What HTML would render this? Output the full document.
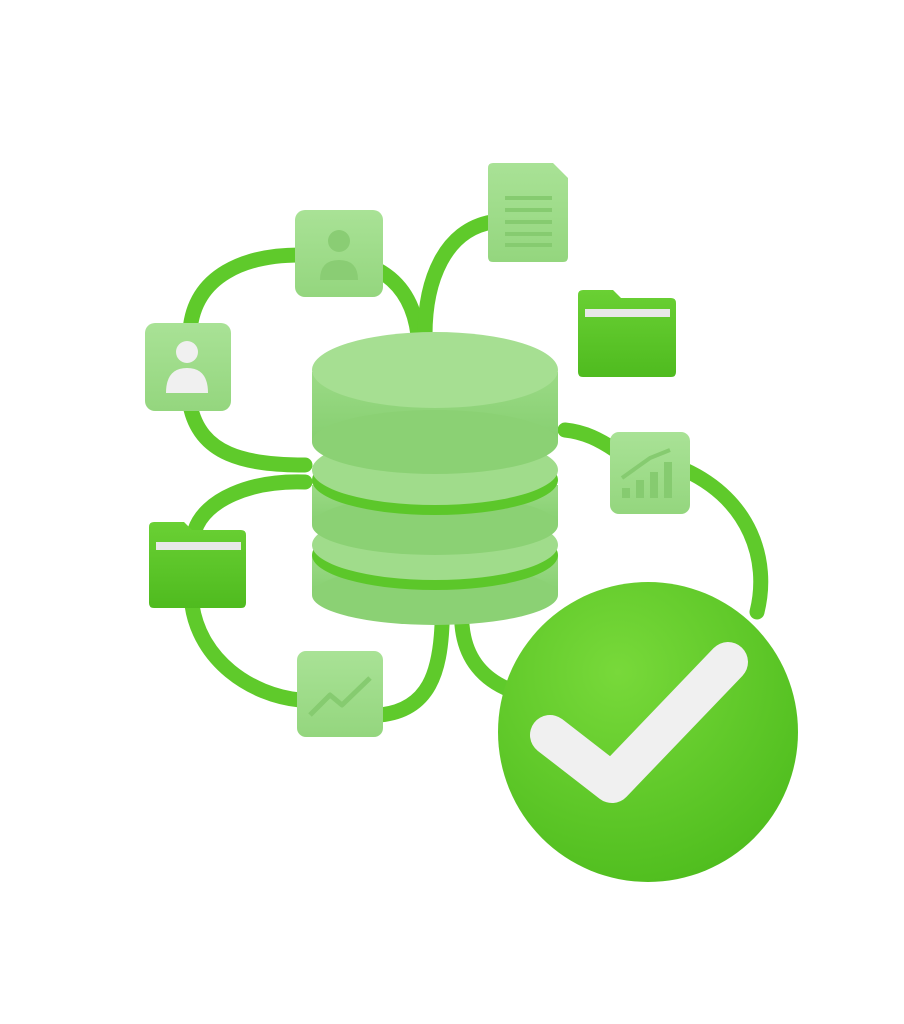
<!DOCTYPE html>
<html><head><meta charset="utf-8"><style>
html,body{margin:0;padding:0;background:#fff;}
svg{display:block;}
</style></head><body>
<svg width="904" height="1024" viewBox="0 0 904 1024" xmlns="http://www.w3.org/2000/svg">
<defs>
<linearGradient id="card" x1="0" y1="0" x2="0" y2="1"><stop offset="0" stop-color="#a9e296"/><stop offset="1" stop-color="#94d67e"/></linearGradient>
<linearGradient id="fold" x1="0" y1="0" x2="0" y2="1"><stop offset="0" stop-color="#6ad034"/><stop offset="1" stop-color="#4fbb1f"/></linearGradient>
<radialGradient id="chk" cx="0.4" cy="0.3" r="0.8"><stop offset="0" stop-color="#78d93a"/><stop offset="1" stop-color="#4cbb1c"/></radialGradient>
<linearGradient id="side" x1="0" y1="0" x2="0" y2="1"><stop offset="0" stop-color="#9bda86"/><stop offset="1" stop-color="#86cf70"/></linearGradient>
</defs>
<g fill="none" stroke="#5fca2b" stroke-width="15" stroke-linecap="round">
<path d="M190,330 C195,275 245,255 300,255"/>
<path d="M378,270 C405,285 415,310 418,335"/>
<path d="M492,222 C445,230 425,280 425,335"/>
<path d="M190,405 C200,455 245,465 305,465"/>
<path d="M305,482 C250,480 205,500 195,530"/>
<path d="M192,605 C200,660 250,695 300,700"/>
<path d="M380,715 C430,710 440,670 442,625"/>
<path d="M462,625 C465,660 485,680 510,690"/>
<path d="M565,430 C585,432 600,440 615,450"/>
<path d="M685,470 C750,500 770,560 757,612"/>
</g>
<!-- database -->
<g>
<rect x="312" y="555" width="246" height="40" fill="url(#side)"/>
<ellipse cx="435" cy="595" rx="123" ry="30" fill="#8bd174"/>
<ellipse cx="435" cy="555" rx="123" ry="35" fill="#5cc72a"/>
<ellipse cx="435" cy="545" rx="123" ry="35" fill="#a0dc8b"/>
<rect x="312" y="485" width="246" height="40" fill="url(#side)"/>
<ellipse cx="435" cy="525" rx="123" ry="30" fill="#8bd174"/>
<ellipse cx="435" cy="480" rx="123" ry="35" fill="#5cc72a"/>
<ellipse cx="435" cy="470" rx="123" ry="35" fill="#a0dc8b"/>
<rect x="312" y="372" width="246" height="70" fill="url(#side)"/>
<ellipse cx="435" cy="442" rx="123" ry="32" fill="#8bd174"/>
<ellipse cx="435" cy="370" rx="123" ry="38" fill="#a6df92"/>
</g>
<!-- cards -->
<rect x="295" y="210" width="88" height="87" rx="10" fill="url(#card)"/>
<circle cx="339" cy="241" r="11" fill="#8acd74"/>
<path d="M320,280 q0,-20 19,-20 q19,0 19,20 z" fill="#8acd74"/>
<rect x="145" y="323" width="86" height="88" rx="10" fill="url(#card)"/>
<circle cx="187" cy="352" r="11" fill="#f0f0f0"/>
<path d="M166,393 q0,-25 21,-25 q21,0 21,25 z" fill="#f0f0f0"/>
<path d="M488,168 q0,-5 5,-5 h60 l15,15 v79 q0,5 -5,5 h-70 q-5,0 -5,-5 z" fill="url(#card)"/>
<g stroke="#86cb70" stroke-width="4"><line x1="505" y1="198" x2="552" y2="198"/><line x1="505" y1="210" x2="552" y2="210"/><line x1="505" y1="222" x2="552" y2="222"/><line x1="505" y1="234" x2="552" y2="234"/><line x1="505" y1="245" x2="552" y2="245"/></g>
<path d="M578,295 q0,-5 5,-5 h30 l8,8 h50 q5,0 5,5 v69 q0,5 -5,5 h-88 q-5,0 -5,-5 z" fill="url(#fold)"/>
<rect x="585" y="309" width="85" height="8" fill="#e8e8e8"/>
<rect x="610" y="432" width="80" height="82" rx="9" fill="url(#card)"/>
<g fill="#86cb70"><rect x="622" y="488" width="8" height="10"/><rect x="636" y="480" width="8" height="18"/><rect x="650" y="472" width="8" height="26"/><rect x="664" y="462" width="8" height="36"/></g>
<path d="M622,478 L650,458 L670,450" stroke="#86cb70" stroke-width="4" fill="none"/>
<path d="M149,527 q0,-5 5,-5 h30 l8,8 h49 q5,0 5,5 v68 q0,5 -5,5 h-87 q-5,0 -5,-5 z" fill="url(#fold)"/>
<rect x="156" y="542" width="85" height="8" fill="#e8e8e8"/>
<rect x="297" y="651" width="86" height="86" rx="9" fill="url(#card)"/>
<path d="M310,715 L330,695 L342,705 L370,678" stroke="#86cb70" stroke-width="5" fill="none" stroke-linejoin="round"/>
<!-- check -->
<circle cx="648" cy="732" r="150" fill="url(#chk)"/>
<path d="M550,735 L612,783 L728,662" stroke="#f0f0f0" stroke-width="40" fill="none" stroke-linecap="round" stroke-linejoin="round"/>
</svg>
</body></html>
